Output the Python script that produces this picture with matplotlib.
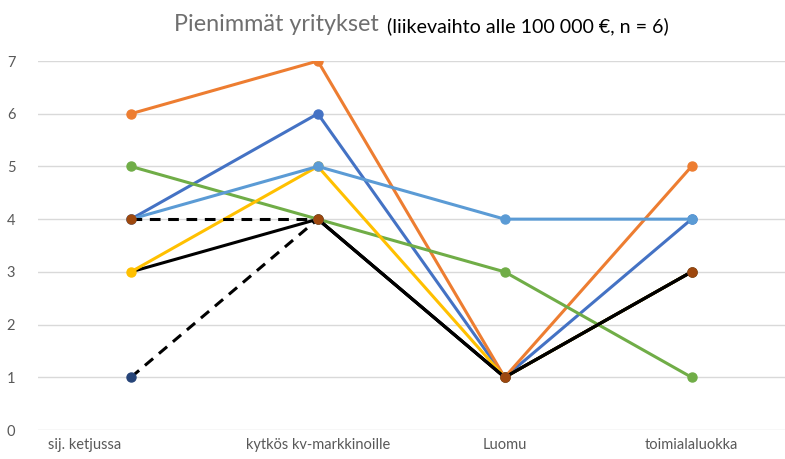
import matplotlib
matplotlib.use("Agg")
import matplotlib.pyplot as plt
import matplotlib.transforms as mtransforms
import numpy as np

plt.rcParams['font.family'] = ['Lato', 'DejaVu Sans']

categories = ["sij. ketjussa", "kytkös kv-markkinoille", "Luomu", "toimialaluokka"]

black_solid = [3, 4, 1, 3]
blue = [4, 6, 1, 4]
orange = [6, 7, 1, 5]
green = [5, 4, 3, 1]
yellow = [3, 5, 1, 3]
light_blue = [4, 5, 4, 4]
navy_dashed = [1, 4, 1, 3]
brown_dashed = [4, 4, 1, 3]

fig = plt.figure(figsize=(7.85, 4.59), dpi=100)
ax = fig.add_axes([37.5/785, 1-430/459, 1-37.5/785, (430-61)/459])

x = np.arange(len(categories))
lw = 2.2
ms = 6.5

ax.plot(x, black_solid, color='black', lw=lw, zorder=3)
ax.plot(x, blue, color='#4472C4', lw=lw, marker='o', ms=ms, zorder=4)
ax.plot(x, orange, color='#ED7D31', lw=lw, marker='o', ms=ms, zorder=4)
ax.plot(x, green, color='#70AD47', lw=lw, marker='o', ms=ms, zorder=4)
ax.plot(x, yellow, color='#FFC000', lw=lw, marker='o', ms=ms, zorder=4)
ax.plot(x, light_blue, color='#5B9BD5', lw=lw, marker='o', ms=ms, zorder=5)

for series, mcol in [(navy_dashed, '#264478'), (brown_dashed, '#9E480E')]:
    ax.plot(x[:2], series[:2], color='black', lw=lw, ls=(0, (3.5, 2.5)), zorder=6)
    ax.plot(x[1:], series[1:], color='black', lw=lw, zorder=6)
    ax.plot(x, series, ls='none', marker='o', ms=ms, color=mcol, zorder=7)

ax.set_xlim(-0.5, 3.5)
ax.set_ylim(0, 7)
ax.set_yticks(range(0, 8))
ax.set_xticks(x)
ax.set_xticklabels(categories)
ax.grid(axis='y', color='#D9D9D9', lw=1)
ax.set_axisbelow(True)
for s in ax.spines.values():
    s.set_visible(False)
ax.tick_params(axis='both', length=0, colors='#595959', labelsize=10.5)
ax.tick_params(axis='y', pad=16)
ax.tick_params(axis='x', pad=6)

first = ax.get_xticklabels()[0]
first.set_transform(first.get_transform() + mtransforms.ScaledTranslation(-0.46, 0, fig.dpi_scale_trans))

fig.text(0.4825, 0.946, "Pienimmät yritykset", ha='right', va='center', fontsize=16.8, color='#6f6f6f')
fig.text(0.4925, 0.944, "(liikevaihto alle 100 000 €, n = 6)", ha='left', va='center', fontsize=14.1, color='black')

fig.savefig("out.png", dpi=100)
